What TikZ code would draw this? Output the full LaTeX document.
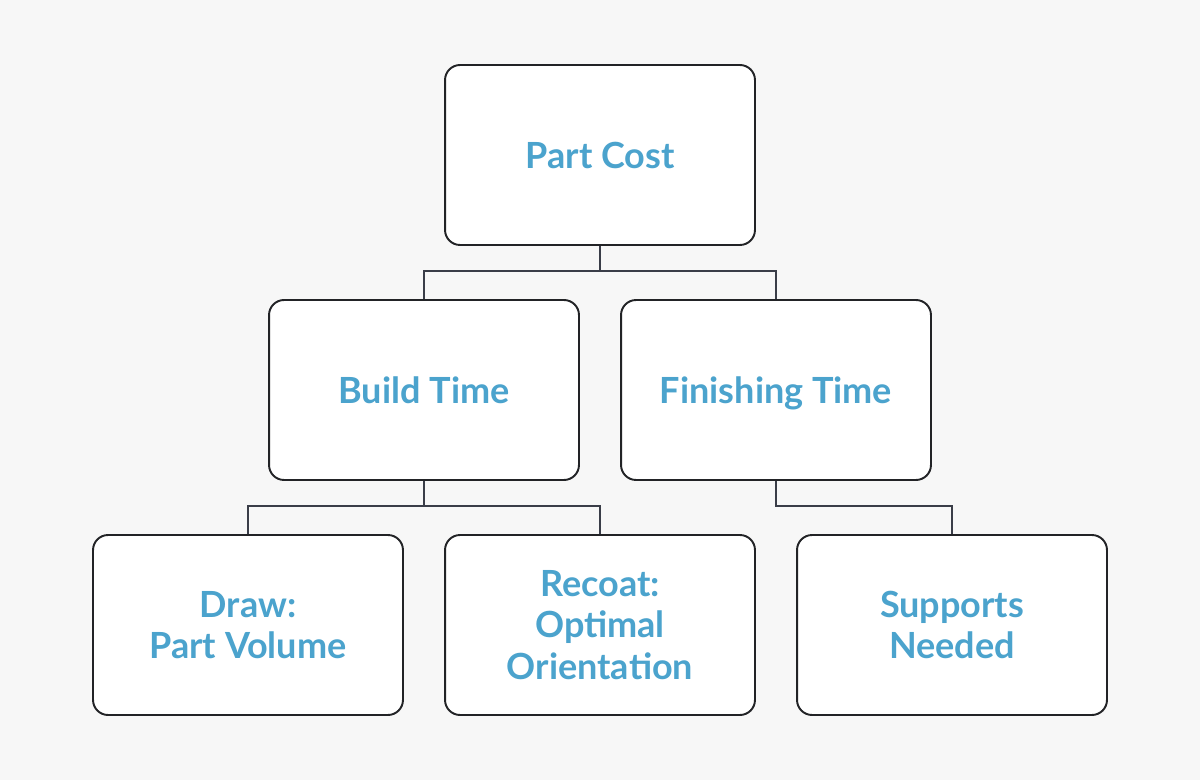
\documentclass[tikz,border=0pt]{standalone}
\usepackage{fontspec}
\setmainfont{Lato}
\definecolor{bg}{HTML}{F7F7F7}
\definecolor{boxline}{HTML}{222326}
\definecolor{linegray}{HTML}{3A3D48}
\definecolor{labelblue}{HTML}{4BA3CD}

\begin{document}
\begin{tikzpicture}[x=0.02cm, y=-0.02cm]
        \tikzstyle{box}=[rectangle, rounded corners=0.3cm, draw=boxline, line width=1.1pt, fill=white, minimum width=6.2cm, minimum height=3.6cm, align=center, font=\fontsize{20.5}{23.7}\selectfont\bfseries, text=labelblue]
        \tikzstyle{edge}=[linegray, line width=0.85pt]

        \fill[bg] (0,0) rectangle (1200,780);

        \node[box] (cost) at (600,155) {Part Cost};
        \node[box] (build) at (424,390) {Build Time};
        \node[box, text depth=0pt] (finish) at (776,390) {Finishing Time};
        \node[box] (draw) at (248,625) {Draw:\\Part Volume};
        \node[box] (recoat) at (600,625) {Recoat:\\Optimal\\Orientation};
        \node[box] (supports) at (952,625) {Supports\\Needed};

        \draw[edge] (cost.south) -- ++(0,25) -| (build.north);
        \draw[edge] (cost.south) -- ++(0,25) -| (finish.north);
        \draw[edge] (build.south) -- ++(0,25) -| (draw.north);
        \draw[edge] (build.south) -- ++(0,25) -| (recoat.north);
        \draw[edge] (finish.south) -- ++(0,25) -| (supports.north);
    \end{tikzpicture}
\end{document}
